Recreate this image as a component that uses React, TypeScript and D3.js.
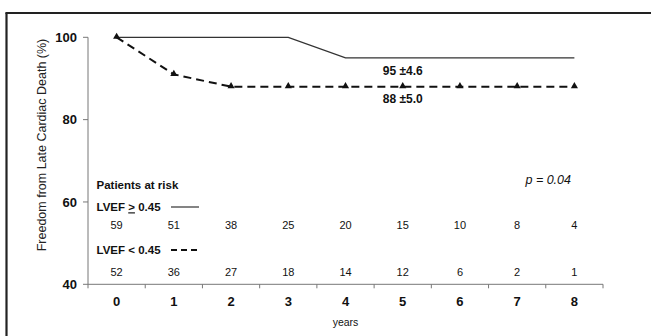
import React from "react";
import * as d3 from "d3";

const years = [0, 1, 2, 3, 4, 5, 6, 7, 8];
const highEF = [100, 100, 100, 100, 95, 95, 95, 95, 95];
const lowEF = [100, 91, 88, 88, 88, 88, 88, 88, 88];
const riskHigh = [59, 51, 38, 25, 20, 15, 10, 8, 4];
const riskLow = [52, 36, 27, 18, 14, 12, 6, 2, 1];
const yTicks = [40, 60, 80, 100];

const W = 651, H = 336;
const left = 88, right = 603, top = 37.3, bottom = 284.3;

export default function App() {
  const x = d3.scaleBand<number>().domain(years).range([left, right]);
  const cx = (d: number) => (x(d) as number) + x.bandwidth() / 2;
  const y = d3.scaleLinear().domain([40, 100]).range([bottom, top]);
  const line = d3.line<number>().x((_, i) => cx(years[i])).y((v) => y(v));
  const tri = d3.symbol().type(d3.symbolTriangle).size(22)() as string;
  const font = "'Liberation Sans', Arial, sans-serif";
  const bounds = [...years.map((d) => x(d) as number), right];

  return (
    <svg width={W} height={H} style={{ position: "absolute", left: 0, top: 0, background: "#fff" }} fontFamily={font}>
      <rect x={0} y={0} width={W} height={H} fill="#fff" />
      {/* frame */}
      <line x1={6.5} y1={13} x2={6.5} y2={H} stroke="#222" strokeWidth={2.2} />
      <line x1={5.4} y1={13} x2={W} y2={13} stroke="#222" strokeWidth={2.2} />
      {/* axes */}
      <line x1={left} y1={top} x2={left} y2={bottom} stroke="#777" strokeWidth={1} />
      <line x1={left} y1={bottom} x2={right} y2={bottom} stroke="#777" strokeWidth={1} />
      {yTicks.map((t) => (
        <g key={t}>
          <line x1={left - 5} x2={left} y1={y(t)} y2={y(t)} stroke="#777" />
          <text x={left - 11} y={y(t)} dy="0.35em" textAnchor="end" fontSize={13} fontWeight="bold" fill="#111">{t}</text>
        </g>
      ))}
      {bounds.map((b, i) => (
        <line key={i} x1={b} x2={b} y1={bottom} y2={bottom + 4} stroke="#777" />
      ))}
      {years.map((d) => (
        <text key={d} x={cx(d)} y={301.7} dy="0.35em" textAnchor="middle" fontSize={13} fontWeight="bold" fill="#111">{d}</text>
      ))}
      <text x={cx(4)} y={322} dy="0.35em" textAnchor="middle" fontSize={10.5} fill="#111">years</text>
      <text transform={`translate(42,145) rotate(-90)`} textAnchor="middle" dy="0.35em" fontSize={12.5} fill="#222">Freedom from Late Cardiac Death (%)</text>
      {/* lines */}
      <path d={line(highEF) as string} fill="none" stroke="#333" strokeWidth={1.3} />
      <path d={line(lowEF) as string} fill="none" stroke="#111" strokeWidth={2} strokeDasharray="8,5" />
      {lowEF.map((v, i) => (
        <path key={i} d={tri} transform={`translate(${cx(years[i])},${y(v) - 0.5})`} fill="#111" />
      ))}
      {/* labels */}
      <text x={cx(5)} y={70.7} dy="0.35em" textAnchor="middle" fontSize={12} fontWeight="bold" fill="#111">95 ±4.6</text>
      <text x={cx(5)} y={99} dy="0.35em" textAnchor="middle" fontSize={12} fontWeight="bold" fill="#111">88 ±5.0</text>
      <text x={571} y={180} dy="0.35em" textAnchor="end" fontSize={12.5} fontStyle="italic" fill="#111">p = 0.04</text>
      {/* patients at risk */}
      <text x={96.5} y={185} dy="0.35em" fontSize={11.5} fontWeight="bold" fill="#111">Patients at risk</text>
      <text x={96.5} y={207.3} dy="0.35em" fontSize={11.5} fontWeight="bold" fill="#111">
        LVEF <tspan textDecoration="underline">&gt;</tspan> 0.45
      </text>
      <line x1={171} x2={199} y1={207} y2={207} stroke="#333" strokeWidth={1.2} />
      <text x={96.5} y={250} dy="0.35em" fontSize={11.5} fontWeight="bold" fill="#111">LVEF &lt; 0.45</text>
      <line x1={171} x2={200} y1={250} y2={250} stroke="#111" strokeWidth={2} strokeDasharray="6,4" />
      {riskHigh.map((v, i) => (
        <text key={i} x={cx(years[i])} y={225} dy="0.35em" textAnchor="middle" fontSize={11} fill="#111">{v}</text>
      ))}
      {riskLow.map((v, i) => (
        <text key={i} x={cx(years[i])} y={271.7} dy="0.35em" textAnchor="middle" fontSize={11} fill="#111">{v}</text>
      ))}
    </svg>
  );
}
